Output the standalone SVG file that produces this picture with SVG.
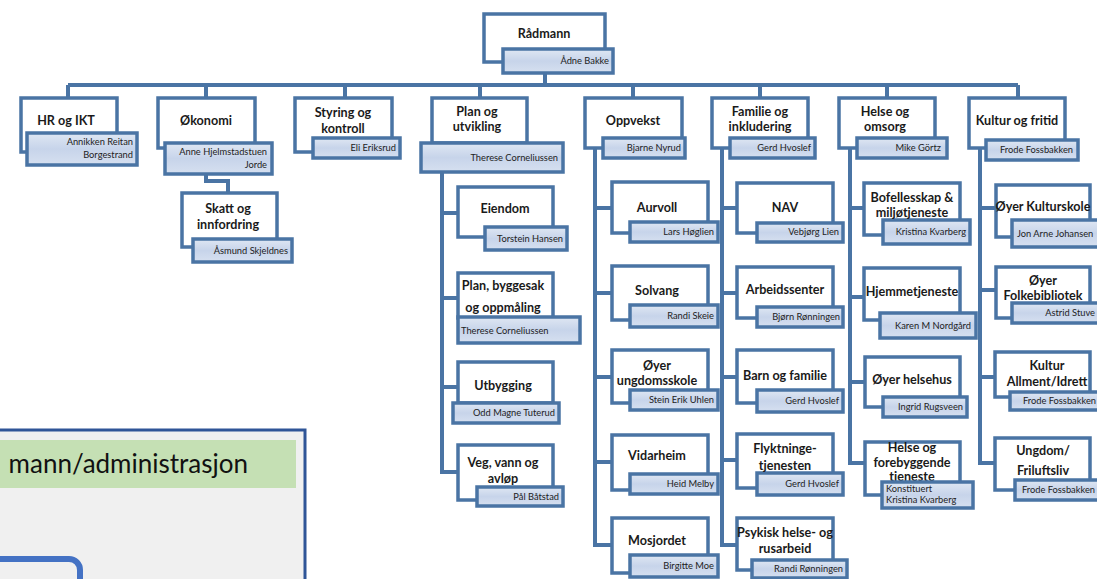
<svg xmlns="http://www.w3.org/2000/svg" width="1097" height="579" viewBox="0 0 1097 579">
<defs>
<linearGradient id="g" x1="0" y1="0" x2="0" y2="1">
<stop offset="0" stop-color="#dfe7f3"/>
<stop offset="0.5" stop-color="#c7d4ea"/>
<stop offset="1" stop-color="#d6e0f0"/>
</linearGradient>
<style>
.box{fill:#fff;stroke:#4a74a4;stroke-width:3.5}
.nb{fill:url(#g);stroke:#4a74a4;stroke-width:3.5}
.t{font-family:Lato,"Liberation Sans",sans-serif;font-weight:700;font-size:12.6px;fill:#1a1a1a;text-anchor:middle}
.n{font-family:Lato,"Liberation Sans",sans-serif;font-size:9.3px;fill:#222;text-anchor:end}
.l{text-anchor:start}
.c{stroke:#4a74a4;stroke-width:4;fill:none}
</style>
</defs>
<rect width="1097" height="579" fill="#fff"/>

<g id="legend">
<rect x="-10" y="430" width="315" height="160" fill="#f0f0f0" stroke="#2f5597" stroke-width="3"/>
<rect x="-5" y="440" width="301" height="48" fill="#c5e0b4"/>
<text x="248" y="473" font-family="Lato,'Liberation Sans',sans-serif" font-size="26" fill="#111" text-anchor="end">mann/administrasjon</text>
<rect x="-20" y="559" width="100" height="40" rx="11" fill="#f0f0f0" stroke="#4472c4" stroke-width="6"/>
</g>

<g id="connectors">
<path class="c" d="M545,73V85M68,85H1018M68,85V98M206,85V98M345,85V98M480,85V98M633,85V98M760,85V98M887,85V98M1018,85V98"/>
<path class="c" d="M206,174V181H228V193"/>
<path class="c" d="M442,172V472H458M442,213H458M442,298H458M442,387H458"/>
<path class="c" d="M595,148V545H612M595,208H612M595,293H612M595,377H612M595,462H612"/>
<path class="c" d="M722,148V545H737M722,208H737M722,293H737M722,377H737M722,460H737"/>
<path class="c" d="M850,148V463H864M850,208H864M850,297H864M850,382H864"/>
<path class="c" d="M980,148V463H995M980,208H996M980,290H996M980,377H995"/>
</g>

<g id="radmann"><rect class="box" x="484" y="14" width="121" height="48"/><rect class="nb" x="503" y="49" width="110" height="24"/><text class="t" x="544" y="38" font-size="15.5">Rådmann</text><text class="n" x="609" y="64">Ådne Bakke</text></g>

<g id="hr"><rect class="box" x="21" y="98" width="96" height="54"/><rect class="nb" x="27" y="133" width="110" height="32"/><text class="t" x="66" y="125">HR og IKT</text><text class="n" x="133" y="145">Annikken Reitan</text><text class="n" x="133" y="158">Borgestrand</text></g>

<g id="okonomi"><rect class="box" x="158" y="98" width="97" height="50"/><rect class="nb" x="165" y="143" width="107" height="31"/><text class="t" x="206" y="125">Økonomi</text><text class="n" x="267" y="155">Anne Hjelmstadstuen</text><text class="n" x="267" y="168">Jorde</text></g>

<g id="skatt"><rect class="box" x="182" y="193" width="95" height="54"/><rect class="nb" x="193" y="239" width="99" height="23"/><text class="t" x="228" y="213">Skatt og</text><text class="t" x="228" y="229">innfordring</text><text class="n" x="288" y="254">Åsmund Skjeldnes</text></g>

<g id="styring"><rect class="box" x="295" y="98" width="97" height="54"/><rect class="nb" x="313" y="138" width="87" height="20"/><text class="t" x="343" y="117">Styring og</text><text class="t" x="343" y="133">kontroll</text><text class="n" x="396" y="151">Eli Eriksrud</text></g>

<g id="plan"><rect class="box" x="432" y="98" width="95" height="45"/><rect class="nb" x="421" y="143" width="142" height="29"/><text class="t" x="477" y="116">Plan og</text><text class="t" x="477" y="131">utvikling</text><text class="n" x="558" y="161">Therese Corneliussen</text></g>

<g id="oppvekst"><rect class="box" x="585" y="98" width="97" height="50"/><rect class="nb" x="603" y="138" width="82" height="20"/><text class="t" x="633" y="125">Oppvekst</text><text class="n" x="681" y="151">Bjarne Nyrud</text></g>

<g id="familie"><rect class="box" x="712" y="98" width="96" height="50"/><rect class="nb" x="730" y="138" width="85" height="20"/><text class="t" x="760" y="116">Familie og</text><text class="t" x="760" y="131">inkludering</text><text class="n" x="811" y="151">Gerd Hvoslef</text></g>

<g id="helse"><rect class="box" x="839" y="98" width="96" height="50"/><rect class="nb" x="857" y="138" width="90" height="20"/><text class="t" x="885" y="116">Helse og</text><text class="t" x="885" y="131">omsorg</text><text class="n" x="941" y="151">Mike Görtz</text></g>

<g id="kultur"><rect class="box" x="969" y="98" width="96" height="50"/><rect class="nb" x="986" y="140" width="92" height="20"/><text class="t" x="1017" y="125">Kultur og fritid</text><text class="n" x="1073" y="153">Frode Fossbakken</text></g>

<g id="eiendom"><rect class="box" x="458" y="187" width="95" height="50"/><rect class="nb" x="485" y="227" width="82" height="23"/><text class="t" x="505" y="213">Eiendom</text><text class="n" x="563" y="242">Torstein Hansen</text></g>
<g id="byggesak"><rect class="box" x="458" y="273" width="95" height="45"/><rect class="nb" x="458" y="317" width="122" height="26"/><text class="t" x="503" y="290">Plan, byggesak</text><text class="t" x="503" y="312">og oppmåling</text><text class="n l" x="461" y="334">Therese Corneliussen</text></g>
<g id="utbygging"><rect class="box" x="458" y="362" width="95" height="41"/><rect class="nb" x="453" y="403" width="106" height="20"/><text class="t" x="503" y="390">Utbygging</text><text class="n" x="555" y="416">Odd Magne Tuterud</text></g>
<g id="veg"><rect class="box" x="458" y="445" width="95" height="55"/><rect class="nb" x="477" y="487" width="86" height="19"/><text class="t" x="503" y="467">Veg, vann og</text><text class="t" x="503" y="483">avløp</text><text class="n" x="559" y="500">Pål Båtstad</text></g>

<g id="aurvoll"><rect class="box" x="612" y="182" width="96" height="51"/><rect class="nb" x="630" y="222" width="88" height="20"/><text class="t" x="657" y="212">Aurvoll</text><text class="n" x="714" y="235">Lars Høglien</text></g>
<g id="solvang"><rect class="box" x="612" y="266" width="96" height="54"/><rect class="nb" x="630" y="305" width="88" height="22"/><text class="t" x="657" y="295">Solvang</text><text class="n" x="714" y="319">Randi Skeie</text></g>
<g id="ungdomsskole"><rect class="box" x="612" y="350" width="96" height="53"/><rect class="nb" x="630" y="390" width="88" height="20"/><text class="t" x="657" y="370">Øyer</text><text class="t" x="657" y="385">ungdomsskole</text><text class="n" x="714" y="403">Stein Erik Uhlen</text></g>
<g id="vidarheim"><rect class="box" x="612" y="435" width="96" height="55"/><rect class="nb" x="630" y="474" width="88" height="20"/><text class="t" x="657" y="460">Vidarheim</text><text class="n" x="714" y="487">Heid Melby</text></g>
<g id="mosjordet"><rect class="box" x="612" y="518" width="96" height="55"/><rect class="nb" x="630" y="555" width="88" height="22"/><text class="t" x="657" y="545">Mosjordet</text><text class="n" x="714" y="569">Birgitte Moe</text></g>

<g id="nav"><rect class="box" x="737" y="183" width="96" height="50"/><rect class="nb" x="757" y="223" width="86" height="19"/><text class="t" x="785" y="212">NAV</text><text class="n" x="839" y="235">Vebjørg Lien</text></g>
<g id="arbeidssenter"><rect class="box" x="737" y="267" width="96" height="51"/><rect class="nb" x="757" y="307" width="86" height="20"/><text class="t" x="785" y="294">Arbeidssenter</text><text class="n" x="840" y="320">Bjørn Rønningen</text></g>
<g id="barn"><rect class="box" x="737" y="350" width="96" height="53"/><rect class="nb" x="757" y="390" width="86" height="22"/><text class="t" x="785" y="380">Barn og familie</text><text class="n" x="839" y="404">Gerd Hvoslef</text></g>
<g id="flyktning"><rect class="box" x="737" y="434" width="96" height="54"/><rect class="nb" x="757" y="473" width="86" height="22"/><text class="t" x="785" y="453">Flyktninge-</text><text class="t" x="785" y="470">tjenesten</text><text class="n" x="839" y="487">Gerd Hvoslef</text></g>
<g id="psykisk"><rect class="box" x="737" y="518" width="96" height="52"/><rect class="nb" x="752" y="560" width="95" height="18"/><text class="t" x="785" y="537">Psykisk helse- og</text><text class="t" x="785" y="553">rusarbeid</text><text class="n" x="843" y="572">Randi Rønningen</text></g>

<g id="bofellesskap"><rect class="box" x="864" y="183" width="96" height="52"/><rect class="nb" x="883" y="220" width="87" height="24"/><text class="t" x="912" y="202">Bofellesskap &amp;</text><text class="t" x="912" y="217">miljøtjeneste</text><text class="n" x="966" y="235">Kristina  Kvarberg</text></g>
<g id="hjemmetjeneste"><rect class="box" x="864" y="268" width="96" height="52"/><rect class="nb" x="880" y="313" width="96" height="25"/><text class="t" x="912" y="296">Hjemmetjeneste</text><text class="n" x="971" y="329">Karen M Nordgård</text></g>
<g id="helsehus"><rect class="box" x="865" y="357" width="95" height="50"/><rect class="nb" x="883" y="397" width="84" height="20"/><text class="t" x="912" y="384">Øyer helsehus</text><text class="n" x="963" y="410">Ingrid Rugsveen</text></g>
<g id="forebyggende"><rect class="box" x="865" y="442" width="95" height="53"/><text class="t" x="912" y="452">Helse og</text><text class="t" x="912" y="467">forebyggende</text><text class="t" x="912" y="481">tjeneste</text><rect class="nb" x="882" y="482" width="91" height="26"/><text class="n l" x="886" y="492">Konstituert</text><text class="n l" x="886" y="503">Kristina Kvarberg</text></g>

<g id="kulturskole"><rect class="box" x="996" y="185" width="94" height="52"/><rect class="nb" x="1012" y="220" width="95" height="27"/><text class="t" x="1043" y="211">Øyer Kulturskole</text><text class="n l" x="1017" y="237">Jon Arne Johansen</text></g>
<g id="folkebibliotek"><rect class="box" x="996" y="267" width="94" height="51"/><rect class="nb" x="1012" y="303" width="95" height="20"/><text class="t" x="1043" y="285">Øyer</text><text class="t" x="1043" y="300">Folkebibliotek</text><text class="n" x="1095" y="316">Astrid Stuve</text></g>
<g id="allment"><rect class="box" x="995" y="352" width="95" height="45"/><rect class="nb" x="1010" y="392" width="95" height="18"/><text class="t" x="1047" y="370">Kultur</text><text class="t" x="1047" y="386">Allment/Idrett</text><text class="n" x="1096" y="404">Frode Fossbakken</text></g>
<g id="ungdom"><rect class="box" x="995" y="438" width="95" height="52"/><rect class="nb" x="1015" y="480" width="90" height="20"/><text class="t" x="1043" y="455">Ungdom/</text><text class="t" x="1043" y="475">Friluftsliv</text><text class="n" x="1095" y="493">Frode Fossbakken</text></g>
</svg>
